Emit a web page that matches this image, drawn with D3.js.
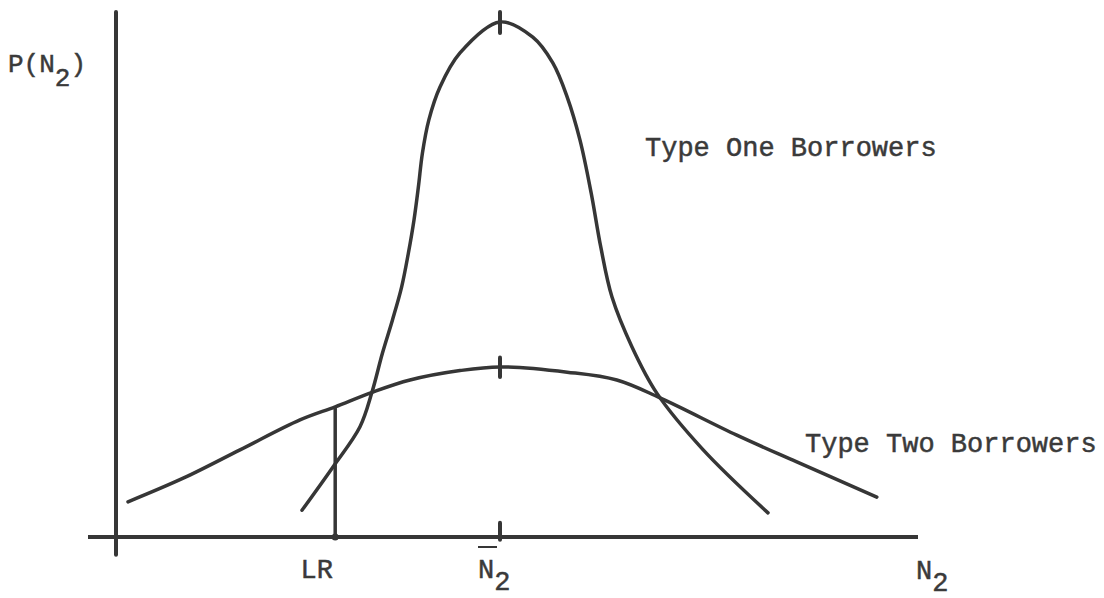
<!DOCTYPE html>
<html>
<head>
<meta charset="utf-8">
<script src="https://cdn.jsdelivr.net/npm/d3@7"></script>
<style>
  body { margin: 0; background: #fff; }
  text { font-family: "Liberation Mono", "Courier New", monospace; fill: #3a3a3a; stroke: #3a3a3a; stroke-width: 0.5px; }
</style>
</head>
<body>
<div id="chart"></div>
<script>
// Type one borrowers: narrow distribution around the mean
const typeOneX = [23.25, 27.1, 30.5, 32, 33.3, 34.55, 35.7, 36.55, 37.25, 37.8, 38.3, 39.1, 40.5, 43, 48,
                  52.1, 54.6, 56.4, 58, 59.4, 60.6, 62, 64.5, 67.6, 73.4, 81.5];
const typeOneY = [5.1, 13.3, 21, 27.6, 35, 41.3, 47.6, 54.1, 60.4, 66.7, 73.1, 79.4, 85.7, 92.2, 98.1,
                  95.2, 90.3, 83.8, 75.6, 65.5, 55.2, 45.7, 36.2, 27.4, 16.6, 4.6];

// Type two borrowers: wide distribution around the same mean
const typeTwoX = [1.5, 8.4, 15.5, 23, 27.4, 32.1, 36.75, 43, 48, 56.4, 62.6, 68, 77.6, 85.1, 95.1];
const typeTwoY = [6.7, 11.2, 16.6, 22.3, 24.8, 27.6, 29.9, 31.7, 32.4, 31.4, 29.9, 26.5, 19.4, 14.3, 7.6];

const meanN2 = 48;      // N2 bar
const lrValue = 27.4;   // LR cut-off
const lrHeight = 24.8;  // where LR meets the type two curve
const seriesLabels = ["Type One Borrowers", "Type Two Borrowers"];

const width = 1104, height = 598;
const ink = "#363636";

const svg = d3.select("#chart").append("svg")
    .attr("width", width)
    .attr("height", height);

const x = d3.scaleLinear().domain([0, 100]).range([116, 916]);
const y = d3.scaleLinear().domain([0, 100]).range([537, 12]);

// axes (plain hand-drawn style lines)
svg.append("line")
    .attr("x1", x(-3.5)).attr("x2", x(100.25))
    .attr("y1", y(0)).attr("y2", y(0))
    .attr("stroke", ink).attr("stroke-width", 4);

svg.append("line")
    .attr("x1", x(0)).attr("x2", x(0))
    .attr("y1", y(100)).attr("y2", y(-3.4))
    .attr("stroke", ink).attr("stroke-width", 4)
    .attr("stroke-linecap", "round");

const line = d3.line()
    .x(d => x(d[0]))
    .y(d => y(d[1]))
    .curve(d3.curveCatmullRom.alpha(0.5));

const typeOne = typeOneX.map((v, i) => [v, typeOneY[i]]);
const typeTwo = typeTwoX.map((v, i) => [v, typeTwoY[i]]);

[typeOne, typeTwo].forEach(data => {
    svg.append("path")
        .datum(data)
        .attr("d", line)
        .attr("fill", "none")
        .attr("stroke", ink)
        .attr("stroke-width", 3.5)
        .attr("stroke-linecap", "round");
});

// LR vertical
svg.append("line")
    .attr("x1", x(lrValue)).attr("x2", x(lrValue))
    .attr("y1", y(lrHeight)).attr("y2", y(0))
    .attr("stroke", ink).attr("stroke-width", 3.5);
svg.append("circle")
    .attr("cx", x(lrValue)).attr("cy", y(0)).attr("r", 3.5)
    .attr("fill", ink);

// tick marks at the mean
const peakOne = d3.max(typeOneY), peakTwo = d3.max(typeTwoY);
[[-0.5, 2.7], [peakTwo - 1.9, peakTwo + 1.8], [peakOne - 2.1, peakOne + 1.9]].forEach(t => {
    svg.append("line")
        .attr("x1", x(meanN2)).attr("x2", x(meanN2))
        .attr("y1", y(t[0])).attr("y2", y(t[1]))
        .attr("stroke", ink).attr("stroke-width", 4)
        .attr("stroke-linecap", "round");
});

const fs = 27;

// y axis label P(N2)
const pLabel = svg.append("text")
    .attr("x", 8).attr("y", 72)
    .attr("font-size", 26);
pLabel.append("tspan").text("P(N");
pLabel.append("tspan").attr("dy", 14).text("2");
pLabel.append("tspan").attr("dy", -14).text(")");

// series labels
svg.append("text")
    .attr("x", 645).attr("y", 156)
    .attr("font-size", fs)
    .text(seriesLabels[0]);
svg.append("text")
    .attr("x", 805).attr("y", 452)
    .attr("font-size", fs)
    .text(seriesLabels[1]);

// x axis labels
svg.append("text")
    .attr("x", 333).attr("y", 578)
    .attr("text-anchor", "end")
    .attr("font-size", fs)
    .text("LR");

const nBar = svg.append("text")
    .attr("x", x(meanN2) - 22).attr("y", 578)
    .attr("font-size", fs);
nBar.append("tspan").text("N");
nBar.append("tspan").attr("dy", 12).text("2");
svg.append("line")
    .attr("x1", x(meanN2) - 22).attr("x2", x(meanN2) - 3)
    .attr("y1", 547).attr("y2", 547)
    .attr("stroke", ink).attr("stroke-width", 2);

const nLabel = svg.append("text")
    .attr("x", 916).attr("y", 579)
    .attr("font-size", fs);
nLabel.append("tspan").text("N");
nLabel.append("tspan").attr("dy", 12).text("2");
</script>
</body>
</html>
